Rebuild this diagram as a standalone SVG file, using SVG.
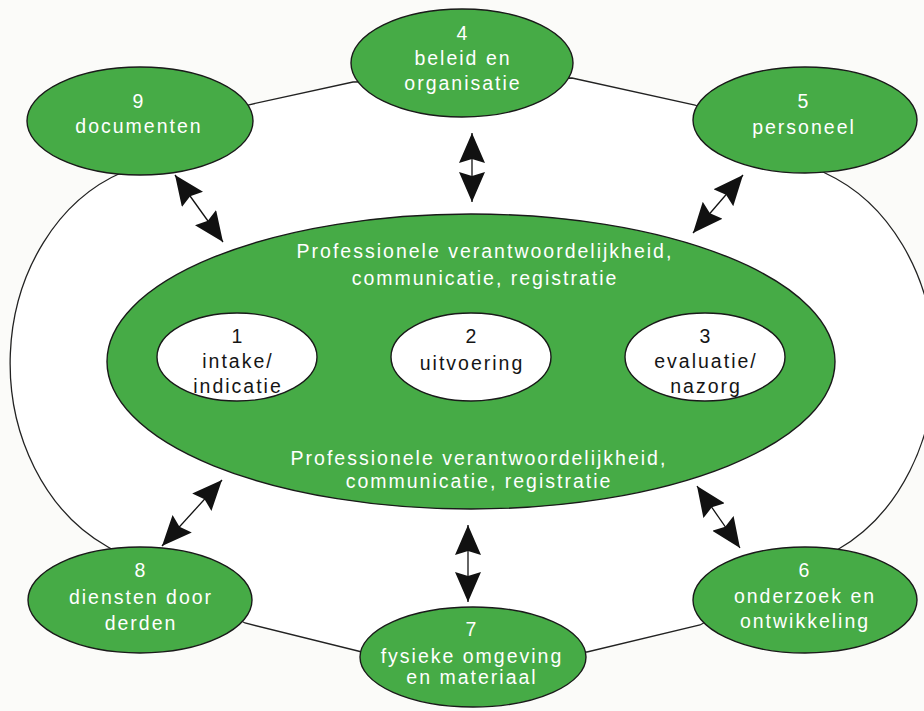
<svg xmlns="http://www.w3.org/2000/svg" width="924" height="711" viewBox="0 0 924 711">
<style>
  .bg { fill: #fbfbf9; }
  .ring { fill: #ffffff; stroke: #222; stroke-width: 1.3; }
  .node { fill: #46ab46; stroke: #1a1a1a; stroke-width: 1.4; }
  .inner { fill: #ffffff; stroke: #1a1a1a; stroke-width: 1.4; }
  .core { fill: #46ab46; stroke: #1a1a1a; stroke-width: 1.4; }
  text { font-family: "Liberation Sans", Arial, sans-serif; font-size: 19.5px; letter-spacing: 2px; text-anchor: middle; }
  .w { fill: #ffffff; }
  .k { fill: #151515; }
  .arrow { stroke: #111; stroke-width: 1.3; fill: none; marker-start: url(#head); marker-end: url(#head); }
</style>
<defs>
  <marker id="head" viewBox="0 0 30 26" refX="30" refY="13" markerWidth="30" markerHeight="26" markerUnits="userSpaceOnUse" orient="auto-start-reverse">
    <path d="M30,13 L0,0 L4,13 L0,26 Z" fill="#111"/>
  </marker>
</defs>
<rect class="bg" x="0" y="0" width="924" height="711"/>
<g id="ring">
  <path class="ring" d="M248,105 L123,172 A170,203 0 0,0 108,547 L245,623 L362,652 L587,652 L700,625 L837,550 A170,205 0 0,0 825,173 L695,105 L572,78 L353,82 Z"/>
</g>
<g id="core">
  <ellipse class="core" cx="471" cy="361.5" rx="364" ry="147.5"/>
  <text class="w" x="485" y="258">Professionele verantwoordelijkheid,</text>
  <text class="w" x="485" y="285">communicatie, registratie</text>
  <text class="w" x="479" y="465">Professionele verantwoordelijkheid,</text>
  <text class="w" x="479" y="488">communicatie, registratie</text>
</g>
<g id="node1">
  <ellipse class="inner" cx="237" cy="357" rx="80" ry="44"/>
  <text class="k" x="238" y="343">1</text>
  <text class="k" x="238" y="368">intake/</text>
  <text class="k" x="238" y="393">indicatie</text>
</g>
<g id="node2">
  <ellipse class="inner" cx="471" cy="357" rx="80" ry="44"/>
  <text class="k" x="472" y="343">2</text>
  <text class="k" x="472" y="370">uitvoering</text>
</g>
<g id="node3">
  <ellipse class="inner" cx="705" cy="357" rx="80" ry="44"/>
  <text class="k" x="706" y="343">3</text>
  <text class="k" x="706" y="368">evaluatie/</text>
  <text class="k" x="706" y="393">nazorg</text>
</g>
<g id="node4">
  <ellipse class="node" cx="462" cy="63" rx="111" ry="54"/>
  <text class="w" x="463" y="40">4</text>
  <text class="w" x="463" y="65">beleid en</text>
  <text class="w" x="463" y="90">organisatie</text>
</g>
<g id="node5">
  <ellipse class="node" cx="805" cy="120" rx="112" ry="53"/>
  <text class="w" x="804" y="108">5</text>
  <text class="w" x="804" y="134">personeel</text>
</g>
<g id="node6">
  <ellipse class="node" cx="805" cy="600" rx="112" ry="53"/>
  <text class="w" x="805" y="577">6</text>
  <text class="w" x="805" y="603">onderzoek en</text>
  <text class="w" x="805" y="628">ontwikkeling</text>
</g>
<g id="node7">
  <ellipse class="node" cx="473" cy="657" rx="113" ry="50"/>
  <text class="w" x="472" y="636">7</text>
  <text class="w" x="472" y="663">fysieke omgeving</text>
  <text class="w" x="472" y="684">en materiaal</text>
</g>
<g id="node8">
  <ellipse class="node" cx="140" cy="600" rx="112" ry="53"/>
  <text class="w" x="141" y="577">8</text>
  <text class="w" x="141" y="604">diensten door</text>
  <text class="w" x="141" y="630">derden</text>
</g>
<g id="node9">
  <ellipse class="node" cx="140" cy="121" rx="113" ry="54"/>
  <text class="w" x="139" y="108">9</text>
  <text class="w" x="139" y="133">documenten</text>
</g>
<g id="connectors">
  <line class="arrow" x1="472" y1="133" x2="472" y2="202"/>
  <line class="arrow" x1="468" y1="525" x2="468" y2="602"/>
  <line class="arrow" x1="175" y1="175" x2="223" y2="242"/>
  <line class="arrow" x1="743" y1="175" x2="693" y2="233"/>
  <line class="arrow" x1="222" y1="480" x2="162" y2="546"/>
  <line class="arrow" x1="697" y1="486" x2="740" y2="548"/>
</g>
</svg>
